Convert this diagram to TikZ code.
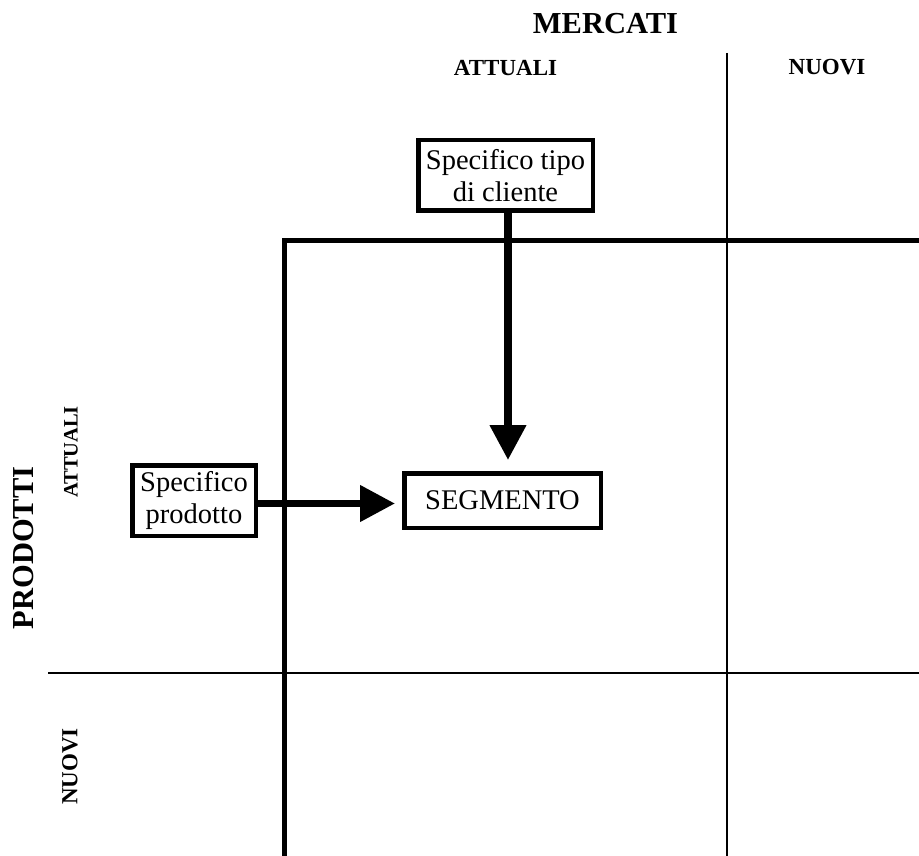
\documentclass[tikz,border=0pt]{standalone}
\usepackage{fontspec}
\setmainfont{Liberation Serif}
\usetikzlibrary{arrows.meta}
\begin{document}
\begin{tikzpicture}[x=1pt,y=-1pt,
  box/.style={draw,line width=4.5pt,inner sep=0pt,align=center,font=\fontsize{28.5}{32}\selectfont},
  thickline/.style={line width=5.5pt,line join=miter},
  thinline/.style={line width=2pt},
  bigarrow/.style={line width=7.5pt,-{Triangle[length=35pt 0,width=35pt 0]}},
  biglabel/.style={font=\bfseries\fontsize{30.5}{34}\selectfont,inner sep=0pt},
  smalllabel/.style={font=\bfseries\fontsize{23}{26}\selectfont,inner sep=0pt}]
\useasboundingbox (0,0) rectangle (919,856);
% grid
\coordinate (vt) at (727,53);
\coordinate (vb) at (727,856);
\coordinate (hl) at (48,673);
\coordinate (hr) at (919,673);
\draw[thinline] (vt) -- (vb);
\draw[thinline] (hl) -- (hr);
\coordinate (cb) at (284.5,856);
\coordinate (cc) at (284.5,240.5);
\coordinate (cr) at (919,240.5);
\draw[thickline] (cb) -- (cc) -- (cr);
% labels
\node[biglabel] (mercati) at (605.5,24) {MERCATI};
\node[smalllabel] (attT) at (505.5,68.5) {ATTUALI};
\node[smalllabel] (nuoT) at (827,67.5) {NUOVI};
\node[biglabel,rotate=90] (prod) at (24,548) {PRODOTTI};
\node[smalllabel,font=\bfseries\fontsize{20.5}{24}\selectfont,rotate=90] (attL) at (71,452) {ATTUALI};
\node[smalllabel,rotate=90] (nuoL) at (70,766.5) {NUOVI};
% boxes
\node[box,minimum width=174.5pt,minimum height=70.5pt,fill=white] (cliente) at (505.5,175.5) {Specifico tipo\\di cliente};
\node[box,minimum width=123.5pt,minimum height=70.5pt,fill=white] (prodotto) at (194,500.5) {Specifico\\prodotto};
\node[box,minimum width=196.5pt,minimum height=54.5pt] (segmento) at (502.5,500.5) {SEGMENTO};
% arrows
\coordinate (t1) at (508,460);
\coordinate (t2) at (395,503.5);
\draw[bigarrow] (cliente.south -| t1) -- (t1);
\draw[bigarrow] (prodotto.east |- t2) -- (t2);
\end{tikzpicture}
\end{document}
